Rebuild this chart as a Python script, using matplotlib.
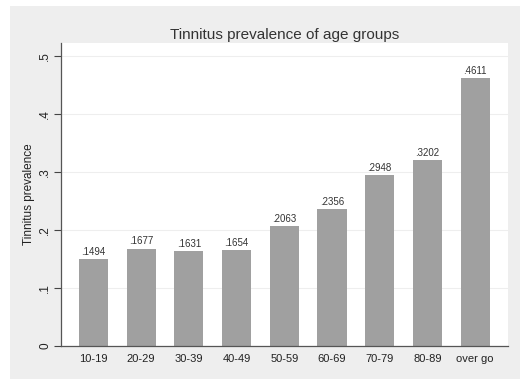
import matplotlib
matplotlib.use("Agg")
import matplotlib.pyplot as plt
from matplotlib.patches import Rectangle

groups = ["10-19", "20-29", "30-39", "40-49", "50-59", "60-69", "70-79", "80-89", "over go"]
prevalence = [0.1494, 0.1677, 0.1631, 0.1654, 0.2063, 0.2356, 0.2948, 0.3202, 0.4611]
yticks = [0, 0.1, 0.2, 0.3, 0.4, 0.5]
ytick_labels = ["0", ".1", ".2", ".3", ".4", ".5"]

plt.rcParams["font.family"] = ["Liberation Sans", "DejaVu Sans"]

fig = plt.figure(figsize=(5.2, 3.79), dpi=100)
fig.patch.set_facecolor("white")
# grey graph region (Stata style)
fig.patches.append(Rectangle((10 / 520, 0), 510 / 520, 1 - 6 / 379,
                             transform=fig.transFigure, facecolor="#EEEEEE",
                             edgecolor="none", zorder=-10))

ax = fig.add_axes([61 / 520, 1 - 346 / 379, 447 / 520, 303 / 379])
ax.set_facecolor("white")

x = list(range(len(groups)))
ax.bar(x, prevalence, width=0.61, color="#A0A0A0", zorder=2)
for xi, v in zip(x, prevalence):
    ax.text(xi, v + 0.004, ("%.4f" % v)[1:], ha="center", va="bottom",
            fontsize=7, color="#333333")

ax.set_xlim(-0.68, 8.69)
ax.set_ylim(0, 0.522)
ax.set_xticks(x)
ax.set_xticklabels(groups, fontsize=8, color="#222222")
ax.set_yticks(yticks)
ax.set_yticklabels(ytick_labels, rotation=90, va="center", fontsize=8.5, color="#222222")
ax.tick_params(axis="x", length=0, pad=6)
ax.tick_params(axis="y", length=5, width=0.8, color="#444444", pad=2)
ax.yaxis.grid(True, color="#EEEEEE", linewidth=0.8, zorder=0)
ax.set_axisbelow(True)

for side in ["top", "right"]:
    ax.spines[side].set_visible(False)
for side in ["left", "bottom"]:
    ax.spines[side].set_color("#555555")
    ax.spines[side].set_linewidth(0.9)

ax.set_ylabel("Tinnitus prevalence", fontsize=8.5, color="#222222", labelpad=3)
ax.set_title("Tinnitus prevalence of age groups", fontsize=11, color="#333333", pad=3)

fig.savefig("out.png", dpi=100, facecolor=fig.get_facecolor())
